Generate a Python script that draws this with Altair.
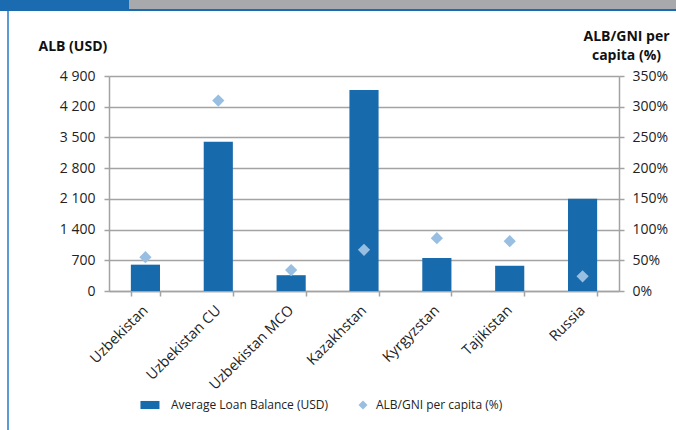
import altair as alt
import pandas as pd

# Average loan balance and ALB/GNI per capita by market
countries = ["Uzbekistan", "Uzbekistan CU", "Uzbekistan MCO", "Kazakhstan",
             "Kyrgyzstan", "Tajikistan", "Russia"]
alb_usd = [600, 3400, 360, 4580, 750, 575, 2100]
alb_gni_pct = [55, 310, 34, 67, 86, 81, 24]

left_ticks = [0, 700, 1400, 2100, 2800, 3500, 4200, 4900]
right_ticks = [0, 50, 100, 150, 200, 250, 300, 350]

series_bar = "Average Loan Balance (USD)"
series_pt = "ALB/GNI per capita (%)"

BAR_BLUE = "#176aac"
DIAMOND_BLUE = "#98bfe2"
GRID = "#a3a3a3"
FONT = "Open Sans"

df = pd.DataFrame({"country": countries, "alb": alb_usd, "ratio": alb_gni_pct})

W, H = 510, 215
LEFT, TOP = 109, 76

x_enc = alt.X(
    "country:N", sort=None, title=None,
    scale=alt.Scale(paddingInner=0.6, paddingOuter=0.3),
    axis=alt.Axis(labelAngle=-45, labelAlign="right", labelBaseline="middle",
                  labelPadding=12, tickBand="extent", tickSize=5,
                  domainColor=GRID, tickColor=GRID, domainWidth=1.5, tickWidth=1.5,
                  labelFont=FONT, labelFontSize=14.5, labelColor="#222222"),
)

# legend swatches: a wide rectangle for the bars, a diamond for the ratio
color_scale = alt.Scale(domain=[series_bar, series_pt], range=[BAR_BLUE, DIAMOND_BLUE])
shape_scale = alt.Scale(domain=[series_bar, series_pt],
                        range=["M-3.9,-0.9H0.33V0.9H-3.9Z", "diamond"])
legend = alt.Legend(title=None, orient="none", direction="horizontal",
                    legendX=43, legendY=323, labelLimit=0,
                    symbolSize=81, labelOffset=7, columnPadding=28,
                    labelFont=FONT, labelFontSize=12,
                    labelColor="#222222", symbolStrokeWidth=0)

bars = alt.Chart(df).mark_bar(color=BAR_BLUE).encode(
    x=x_enc,
    y=alt.Y("alb:Q", scale=alt.Scale(domain=[0, 4900], nice=False),
            axis=alt.Axis(values=left_ticks, orient="left",
                          labelExpr="replace(format(datum.value, ','), ',', ' ')",
                          grid=True, gridColor=GRID, gridWidth=1.5,
                          domainColor=GRID, tickColor=GRID, domainWidth=1.5, tickWidth=1.5,
                          tickSize=5, labelPadding=9,
                          labelFont=FONT, labelFontSize=14, labelColor="#222222",
                          title="ALB (USD)", titleAngle=0, titleAlign="left",
                          titleBaseline="middle", titleX=-71, titleY=-30,
                          titleFont=FONT, titleFontSize=14, titleFontWeight="bold",
                          titleColor="#111111")),
)

points = alt.Chart(df).transform_calculate(series=f"'{series_pt}'").mark_point(
    filled=True, size=150, opacity=1
).encode(
    x=alt.X("country:N", sort=None),
    y=alt.Y("ratio:Q", scale=alt.Scale(domain=[0, 350], nice=False),
            axis=alt.Axis(values=right_ticks, orient="right",
                          labelExpr="datum.value + '%'",
                          grid=False, domainColor=GRID, tickColor=GRID,
                          domainWidth=1.5, tickWidth=1.5, tickSize=5, labelPadding=8,
                          labelFont=FONT, labelFontSize=14, labelColor="#222222",
                          title=["ALB/GNI per", "capita (%)"], titleAngle=0,
                          titleAlign="center", titleBaseline="top",
                          titleX=7, titleY=-47, titleLineHeight=19,
                          titleFont=FONT, titleFontSize=14, titleFontWeight="bold",
                          titleColor="#111111")),
    color=alt.Color("series:N", scale=color_scale, legend=legend),
    shape=alt.Shape("series:N", scale=shape_scale, legend=legend),
)

# page frame: header strip, rule beneath it and left border
frame_src = alt.Chart(pd.DataFrame({"k": [0]}))
header_blue = frame_src.mark_rect(color="#1a6bb0").encode(
    x=alt.value(-LEFT), x2=alt.value(129 - LEFT), y=alt.value(-TOP), y2=alt.value(9 - TOP))
header_gray = frame_src.mark_rect(color="#a7a9ac").encode(
    x=alt.value(129 - LEFT), x2=alt.value(676 - LEFT), y=alt.value(-TOP), y2=alt.value(9 - TOP))
header_rule = frame_src.mark_rect(color="#1a6bb0").encode(
    x=alt.value(-LEFT), x2=alt.value(676 - LEFT), y=alt.value(9 - TOP), y2=alt.value(11 - TOP))
left_border = frame_src.mark_rect(color="#5b9bd5").encode(
    x=alt.value(7 - LEFT), x2=alt.value(9 - LEFT), y=alt.value(11 - TOP), y2=alt.value(430 - TOP))

chart = alt.layer(bars, points, header_blue, header_gray, header_rule, left_border).resolve_scale(
    y="independent"
).properties(
    width=W, height=H,
    autosize=alt.AutoSizeParams(type="none"),
    padding={"left": LEFT, "top": TOP, "right": 676 - LEFT - W, "bottom": 430 - TOP - H},
).configure_view(stroke=None).configure(background="white")

chart.save("out.html", embed_options={"renderer": "svg", "actions": False})
